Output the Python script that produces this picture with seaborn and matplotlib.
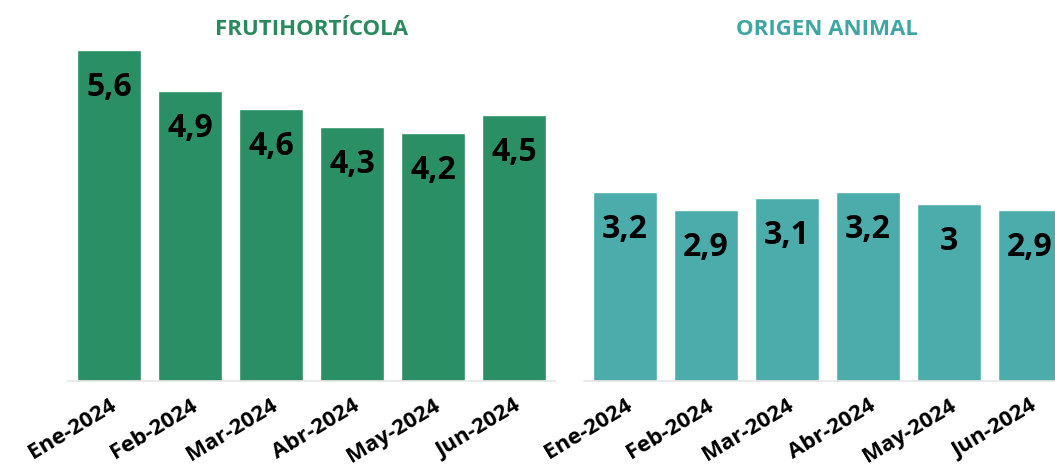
import seaborn as sns
import matplotlib.pyplot as plt
import pandas as pd

# Data
months = ['Ene-2024', 'Feb-2024', 'Mar-2024', 'Abr-2024', 'May-2024', 'Jun-2024']
frutihorticola = [5.6, 4.9, 4.6, 4.3, 4.2, 4.5]
origen_animal = [3.2, 2.9, 3.1, 3.2, 3.0, 2.9]

panels = [
    ('FRUTIHORTÍCOLA', frutihorticola, '#2b8f66', '#2a8a5e'),
    ('ORIGEN ANIMAL', origen_animal, '#4cacac', '#3fa6a4'),
]

sns.set_style('white')
plt.rcParams['font.family'] = ['Open Sans', 'DejaVu Sans']

fig = plt.figure(figsize=(10.55, 4.71), dpi=100)
lefts = [0.0649, 0.554]

for left, (title, values, bar_color, title_color) in zip(lefts, panels):
    ax = fig.add_axes([left, 0.1911, 0.4607, 0.7028])
    df = pd.DataFrame({'mes': months, 'valor': values})
    sns.barplot(data=df, x='mes', y='valor', color=bar_color, saturation=1,
                width=0.8, ax=ax)
    ax.set_ylim(0, 5.6)
    ax.set_xlim(-0.5, 5.5)
    ax.set_xlabel('')
    ax.set_ylabel('')
    ax.set_yticks([])
    for s in ['top', 'right', 'left']:
        ax.spines[s].set_visible(False)
    ax.spines['bottom'].set_color('#e6e6e6')
    ax.spines['bottom'].set_linewidth(1.2)
    ax.tick_params(axis='x', length=7, color='#e6e6e6', width=1, pad=3)
    ax.set_xticks(range(len(months)))
    ax.set_xticklabels(months, rotation=31, ha='right', rotation_mode='anchor',
                       fontsize=16, fontweight='bold', color='black')
    ax.set_title(title, fontsize=16, fontweight='bold', color=title_color, pad=11)
    for i, v in enumerate(values):
        label = f'{v:g}'.replace('.', ',')
        ax.annotate(label, (i, v), xytext=(0, -27), textcoords='offset points',
                    ha='center', va='center', fontsize=23, fontweight='bold',
                    color='black')

fig.savefig('out.png', dpi=100)
